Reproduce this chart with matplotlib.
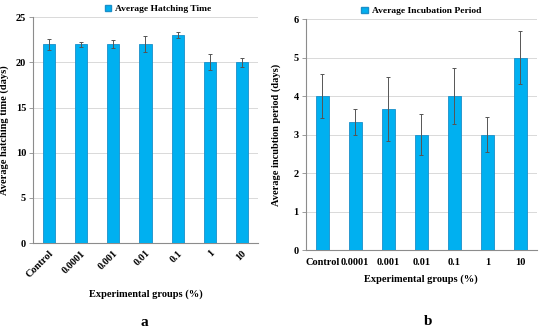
import matplotlib
matplotlib.use("Agg")
import matplotlib.pyplot as plt
from matplotlib.patches import Patch

groups = ["Control", "0.0001", "0.001", "0.01", "0.1", "1", "10"]
hatch_mean = [22, 22, 22, 22, 23, 20, 20]
hatch_err = [0.6, 0.3, 0.45, 0.9, 0.3, 0.9, 0.5]
incub_mean = [4.0, 3.33, 3.67, 3.0, 4.0, 3.0, 5.0]
incub_err = [0.58, 0.33, 0.83, 0.53, 0.72, 0.45, 0.68]

BAR = "#00b0f0"
EDGE = "#1a8fc9"
plt.rcParams["font.family"] = ["Liberation Serif", "DejaVu Serif"]
plt.rcParams["font.weight"] = "bold"

fig = plt.figure(figsize=(5.5, 3.29), dpi=100)
ax1 = fig.add_axes([0.06, 0.261, 0.409, 0.687])
ax2 = fig.add_axes([0.556, 0.240, 0.42, 0.702])


def draw(ax, means, errs, ymax, step, ylabel, legend, rotate, leg_x, tpad, xpad, ypad):
    x = range(len(groups))
    ax.bar(x, means, width=0.38, color=BAR, edgecolor=EDGE, linewidth=0.6, zorder=3,
           yerr=errs, error_kw=dict(ecolor="#555555", elinewidth=0.7, capsize=1.2, capthick=0.7))
    ax.set_xlim(-0.5, len(groups) - 0.5)
    ax.set_ylim(0, ymax)
    ax.set_yticks(range(0, ymax + 1, step))
    ax.yaxis.grid(True, color="#d9d9d9", lw=0.7, zorder=0)
    for s in ("top", "right"):
        ax.spines[s].set_visible(False)
    for s in ("left", "bottom"):
        ax.spines[s].set_color("#8c8c8c")
        ax.spines[s].set_linewidth(0.8)
    ax.tick_params(axis="y", length=3, width=0.6, color="#8c8c8c", labelsize=7.5, pad=2)
    ax.tick_params(axis="x", length=0, labelsize=7.5, pad=tpad)
    ax.set_xticks(list(x))
    if rotate:
        ax.set_xticklabels(groups, rotation=45, ha="right", rotation_mode="anchor")
    else:
        ax.set_xticklabels(groups)
    for t in ax.get_xticklabels() + ax.get_yticklabels():
        t.set_fontweight("bold")
    ax.set_ylabel(ylabel, fontsize=7.5, fontweight="bold", labelpad=ypad)
    ax.set_xlabel("Experimental groups (%)", fontsize=7.5, fontweight="bold", labelpad=xpad)
    ax.legend(handles=[Patch(facecolor=BAR, edgecolor=EDGE, label=legend)], loc="lower center",
              bbox_to_anchor=(leg_x, 1.0), frameon=False, handlelength=0.7,
              handleheight=0.7, handletextpad=0.4, borderaxespad=0,
              prop=dict(weight="bold", size=6.8))


draw(ax1, hatch_mean, hatch_err, 25, 5, "Average hatching time (days)",
     "Average Hatching Time", True, 0.555, 4, 7, 5)
draw(ax2, incub_mean, incub_err, 6, 1, "Average incubtion period (days)",
     "Average Incubation Period", False, 0.5, 6, 5, 9)

fig.text(0.263, 0.008, "a", fontsize=11, fontweight="bold", ha="center")
fig.text(0.778, 0.012, "b", fontsize=11, fontweight="bold", ha="center")

fig.savefig("out.png", dpi=100)
